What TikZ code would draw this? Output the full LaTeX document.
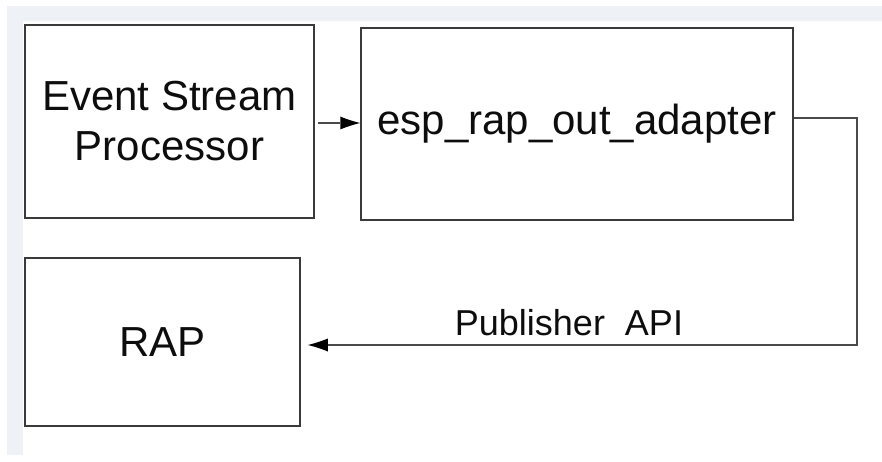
\documentclass[tikz,border=0pt]{standalone}
\usepackage{fontspec}
\setmainfont{Liberation Sans}
\usepackage{tikz}
\usetikzlibrary{arrows,arrows.meta,positioning}
\definecolor{bandgray}{HTML}{EEF1F5}
\definecolor{boxline}{HTML}{3A3A3A}
\definecolor{wireline}{HTML}{4A4A4A}

\begin{document}
\begin{tikzpicture}[x=1pt,y=-1pt]
\useasboundingbox (0,0) rectangle (882,462);
\tikzset{box/.style = {draw=boxline, line width=1.5pt, fill=white, inner sep=0pt, align=center,
  font=\fontsize{42}{50}\selectfont, text=black!95}}
\tikzset{edge/.style = {-{Latex[length=20pt,width=13pt,fill=black,line width=0pt]}, draw=wireline, line width=1.3pt}}
%light band at top and left
\fill[bandgray] (7,6) rectangle (882,21);
\fill[bandgray] (7,6) rectangle (23,455);
%the three boxes
\node[box, minimum width=289pt, minimum height=193pt] (esp) at (169.5,121.5) {Event Stream\\Processor};
\node[box, minimum width=432pt, minimum height=192pt] (adapter) at (577,124) {esp\_rap\_out\_adapter};
\node[box, minimum width=275pt, minimum height=168pt] (rap) at (162.5,342) {RAP};
%esp to adapter
\draw[edge, shorten <=3pt] (esp.east |- 0,123) -- (adapter.west |- 0,123);
%adapter back round to rap
\coordinate (c1) at (857,118);
\coordinate (c2) at (857,345);
\coordinate (rapin) at ([xshift=7pt,yshift=-3pt]rap.east);
\draw[edge] ([yshift=6pt]adapter.east) -- (c1) -- (c2) -- (rapin);
\node[anchor=base, inner sep=0pt, font=\fontsize{36}{40}\selectfont, text=black!95] (pub) at (569,335) {Publisher\ \ API};
\end{tikzpicture}
\end{document}
